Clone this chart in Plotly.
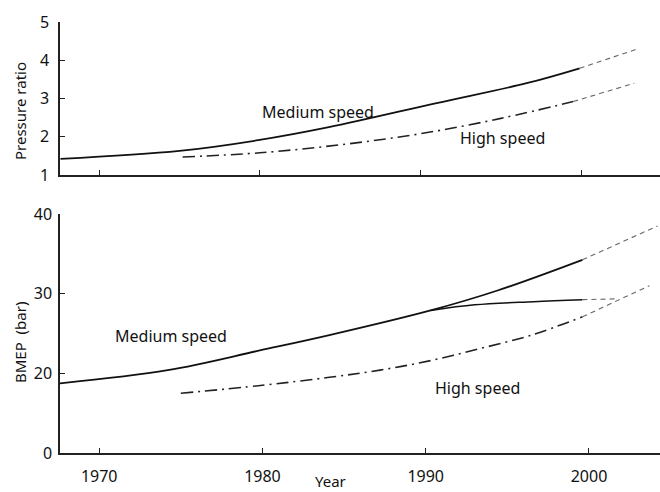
import plotly.graph_objects as go

# ---- Data ----
# Top panel: pressure ratio
pr_med_years = [1967.6, 1975.0, 1979.9, 1984.3, 1991.0, 1996.6, 1999.9]
pr_med_vals = [1.42, 1.63, 1.91, 2.25, 2.88, 3.40, 3.79]
pr_med_ext_years = [1999.9, 2003.6]
pr_med_ext_vals = [3.79, 4.31]

pr_high_years = [1975.2, 1980.0, 1985.0, 1990.0, 1995.0, 1999.5]
pr_high_vals = [1.47, 1.58, 1.79, 2.08, 2.48, 2.92]
pr_high_ext_years = [1999.5, 2003.3]
pr_high_ext_vals = [2.92, 3.40]

# Bottom panel: BMEP (bar)
bm_med_years = [1967.6, 1974.2, 1979.9, 1984.1, 1990.3, 1994.4, 1999.6]
bm_med_vals = [18.75, 20.4, 22.9, 24.8, 27.9, 30.4, 34.25]
bm_med_ext_years = [1999.6, 2004.2]
bm_med_ext_vals = [34.25, 38.5]

bm_branch_years = [1990.3, 1993.0, 1996.6, 1999.6]
bm_branch_vals = [27.9, 28.6, 29.0, 29.25]
bm_branch_ext_years = [1999.6, 2001.7]
bm_branch_ext_vals = [29.25, 29.35]

bm_high_years = [1975.0, 1980.0, 1984.1, 1987.2, 1990.3, 1993.3, 1996.4, 1999.6]
bm_high_vals = [17.5, 18.5, 19.5, 20.4, 21.6, 23.1, 24.75, 27.1]
bm_high_ext_years = [1999.6, 2003.7]
bm_high_ext_vals = [27.1, 31.0]

x_ticks = [1970, 1980, 1990, 2000]
x_tick_text = ["1970", "1980", "1990", "2000"]
pr_ticks = [1, 2, 3, 4, 5]
pr_tick_text = ["1", "2", "3", "4", "5"]
# broken BMEP scale: lowest tick drawn as 0
bm_ticks = [10, 20, 30, 40]
bm_tick_text = ["0", "20", "30", "40"]

FONT = "Noto Sans"
solid = dict(color="#111111", width=1.8, shape="spline")
dashdot = dict(color="#222222", width=1.6, dash="12px,5px,2px,5px", shape="spline")
ext = dict(color="#666666", width=1.1, dash="5px,4px", shape="spline")

fig = go.Figure()

def add(x, y, line, xa, ya):
    fig.add_trace(go.Scatter(x=x, y=y, mode="lines", line=line,
                             xaxis=xa, yaxis=ya, showlegend=False, hoverinfo="skip"))

add(pr_med_years, pr_med_vals, solid, "x", "y")
add(pr_med_ext_years, pr_med_ext_vals, ext, "x", "y")
add(pr_high_years, pr_high_vals, dashdot, "x", "y")
add(pr_high_ext_years, pr_high_ext_vals, ext, "x", "y")

add(bm_med_years, bm_med_vals, solid, "x2", "y2")
add(bm_med_ext_years, bm_med_ext_vals, ext, "x2", "y2")
add(bm_branch_years, bm_branch_vals, dict(solid, width=1.5), "x2", "y2")
add(bm_branch_ext_years, bm_branch_ext_vals, ext, "x2", "y2")
add(bm_high_years, bm_high_vals, dashdot, "x2", "y2")
add(bm_high_ext_years, bm_high_ext_vals, ext, "x2", "y2")

axis_common = dict(showline=True, linecolor="#222222", linewidth=1.5, ticks="inside",
                   ticklen=5, tickwidth=1.2, tickcolor="#222222", showgrid=False,
                   zeroline=False, automargin=False,
                   tickfont=dict(family=FONT, size=16, color="#111111"))

fig.update_layout(
    width=660, height=492,
    margin=dict(l=60, r=0, t=22, b=39, autoexpand=False),
    paper_bgcolor="white", plot_bgcolor="white",
    xaxis=dict(axis_common, domain=[0, 1], range=[1967.57, 2004.9], anchor="y",
               tickvals=x_ticks, showticklabels=False),
    yaxis=dict(axis_common, domain=[0.645, 1], range=[1, 5], anchor="x",
               tickvals=pr_ticks, ticktext=pr_tick_text, ticklabelstandoff=6),
    xaxis2=dict(axis_common, domain=[0, 1], range=[1967.6, 2004.35], anchor="y2",
                tickvals=x_ticks, ticktext=x_tick_text, ticklabelstandoff=8),
    yaxis2=dict(axis_common, domain=[0, 0.5545], range=[10, 40], anchor="x2",
                tickvals=bm_ticks, ticktext=bm_tick_text, ticklabelstandoff=3),
)

ann_font = dict(family=FONT, size=16, color="#111111")
annotations = [
    dict(text="Medium speed", x=1983.6, y=2.66, xref="x", yref="y"),
    dict(text="High speed", x=1995.1, y=1.97, xref="x", yref="y"),
    dict(text="Medium speed", x=1974.4, y=24.75, xref="x2", yref="y2"),
    dict(text="High speed", x=1993.2, y=18.1, xref="x2", yref="y2"),
]
for a in annotations:
    fig.add_annotation(**a, showarrow=False, font=ann_font,
                       xanchor="center", yanchor="middle")

side_font = dict(family=FONT, size=15, color="#111111")
fig.add_annotation(text="Pressure ratio", xref="paper", yref="paper", x=(20 - 60) / 600,
                   y=1 - (111 - 22) / 431, textangle=-90, showarrow=False,
                   xanchor="center", yanchor="middle", font=side_font)
fig.add_annotation(text="BMEP  (bar)", xref="paper", yref="paper", x=(20 - 60) / 600,
                   y=1 - (343 - 22) / 431, textangle=-90, showarrow=False,
                   xanchor="center", yanchor="middle", font=side_font)
fig.add_annotation(text="Year", xref="paper", yref="paper", x=(330 - 60) / 600,
                   y=-(481 - 453) / 431, showarrow=False,
                   xanchor="center", yanchor="middle", font=side_font)

fig.write_html("out.html", config={"displayModeBar": False},
               post_script="document.body.style.margin='0';document.body.style.padding='0';")
